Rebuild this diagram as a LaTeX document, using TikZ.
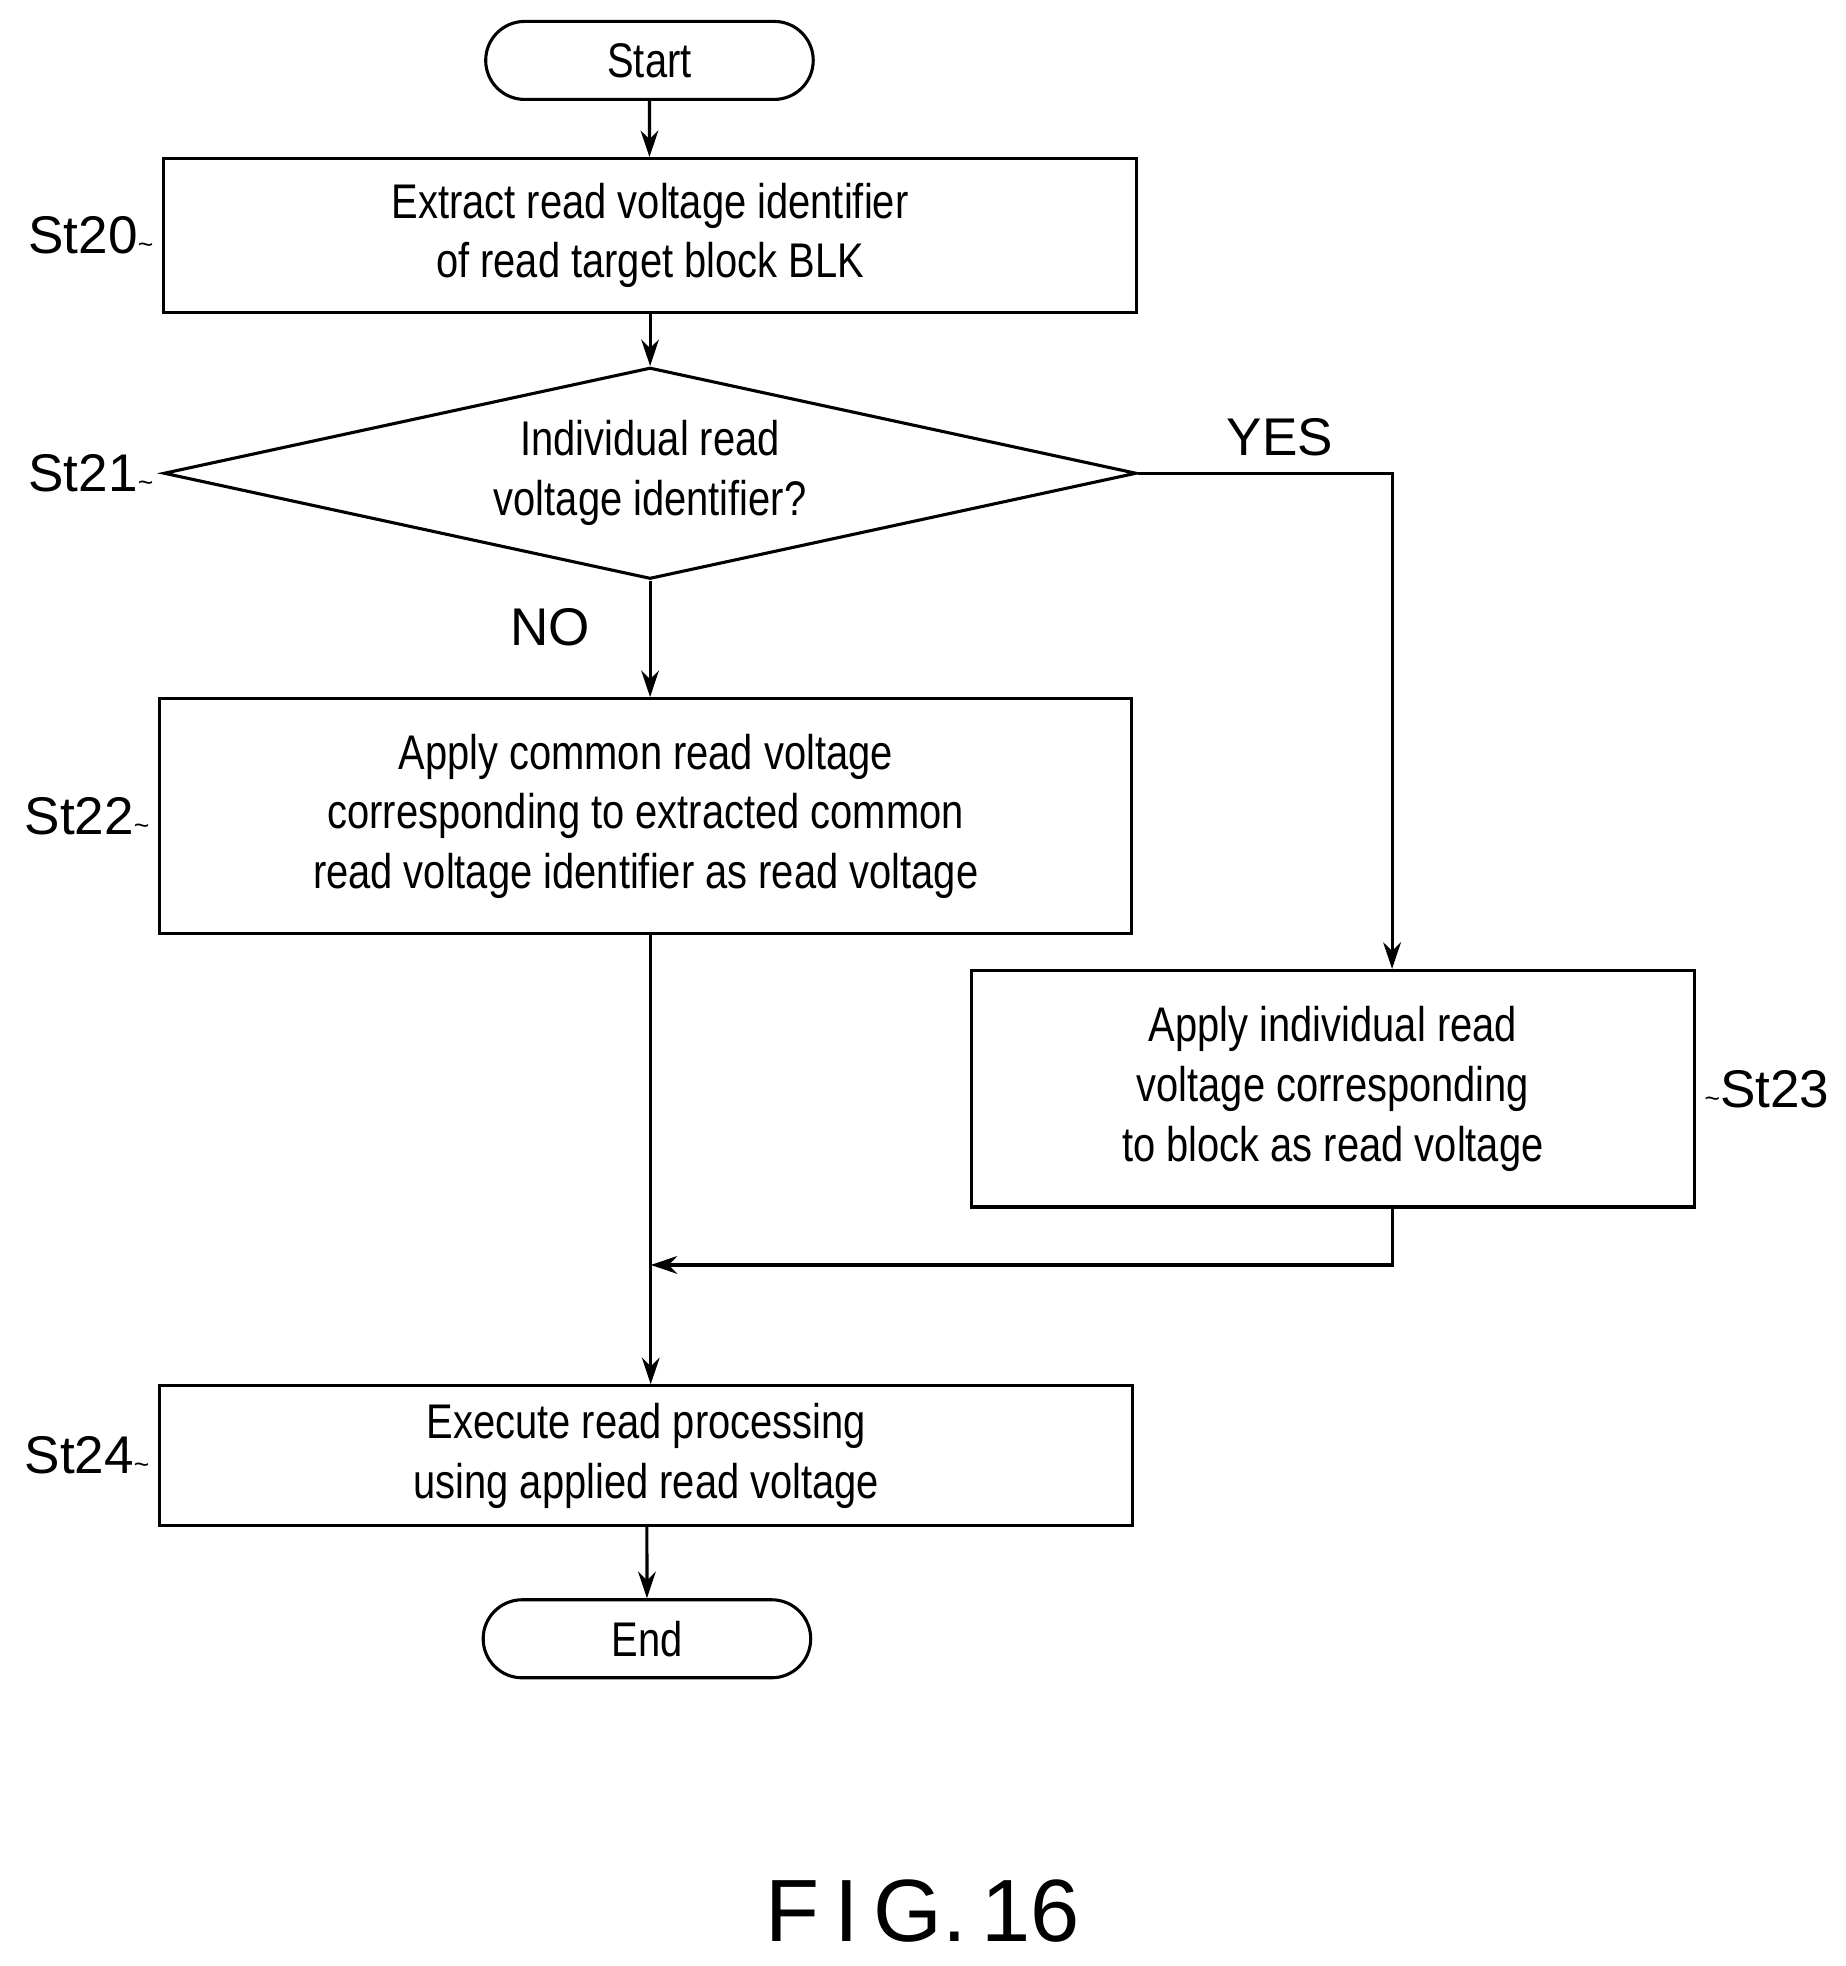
\documentclass[tikz,border=0pt]{standalone}
\usepackage{fontspec}
\setmainfont{Liberation Sans}
\newfontfamily\narrowfont{Liberation Sans}[FakeStretch=0.82]
\usetikzlibrary{shapes.geometric,shapes.misc,arrows.meta}
\newcommand{\wig}{{\fontsize{12}{12}\selectfont\textasciitilde}}
\begin{document}
\begin{tikzpicture}[x=0.02cm,y=-0.02cm,line width=1.4pt,
  every node/.style={font=\fontsize{22}{27}\selectfont\narrowfont},
  box/.style={draw,rectangle,align=center,inner sep=0pt},
  term/.style={draw,rounded rectangle,minimum width=5.44cm,minimum height=1.24cm},
  lbl/.style={font=\fontsize{24}{28}\selectfont},
  arr/.style={-{Stealth[length=12pt,width=8pt]}}]
  \useasboundingbox (0,0) rectangle (1466,1562);

  % terminals
  \node[term] (start) at (516,48) {Start};
  \node[term] (end) at (514,1302) {End};

  % steps
  \node[box,minimum width=15.46cm,minimum height=2.44cm] (st20) at (516.5,187)
    {Extract read voltage identifier\\of read target block BLK};
  \node[draw,diamond,aspect=4.6,inner sep=0pt,minimum width=15.46cm,minimum height=3.36cm,align=center] (st21) at (516.5,376)
    {Individual read\\voltage identifier?};
  \node[box,minimum width=15.44cm,minimum height=3.74cm] (st22) at (513,648.5)
    {Apply common read voltage\\corresponding to extracted common\\read voltage identifier as read voltage};
  \node[box,minimum width=11.48cm,minimum height=3.76cm] (st23) at (1059,865)
    {Apply individual read\\voltage corresponding\\to block as read voltage};
  \node[box,minimum width=15.46cm,minimum height=2.22cm] (st24) at (513.5,1156.5)
    {Execute read processing\\using applied read voltage};

  % step labels
  \node[lbl,anchor=east] at (st20.west) {St20\wig};
  \node[lbl,anchor=east] at (st21.west) {St21\wig};
  \node[lbl,anchor=east] at (st22.west) {St22\wig};
  \node[lbl,anchor=west] at (st23.east) {\wig St23};
  \node[lbl,anchor=east] at (st24.west) {St24\wig};
  \node[lbl] at (1017,347) {YES};
  \node[lbl] at (437,498) {NO};

  % connectors
  \coordinate (turn) at (1106,376);
  \coordinate (join) at (517,1005);
  \draw[arr] (start) -- (start|-st20.north);
  \draw[arr] (st20) -- (st21);
  \draw[arr] (st21.south) -- (st21.south|-st22.north);
  \draw[arr] (st21.east) -- (turn) -- (turn|-st23.north);
  \draw[arr] (st22.south-|join) -- (join|-st24.north);
  \draw[arr] (turn|-st23.south) -- (turn|-join) -- (join);
  \draw[arr] (st24.south-|end) -- (end);

  \node[font=\fontsize{40}{40}\selectfont] at (733,1518) {F\,I\,G.\,16};
\end{tikzpicture}
\end{document}
